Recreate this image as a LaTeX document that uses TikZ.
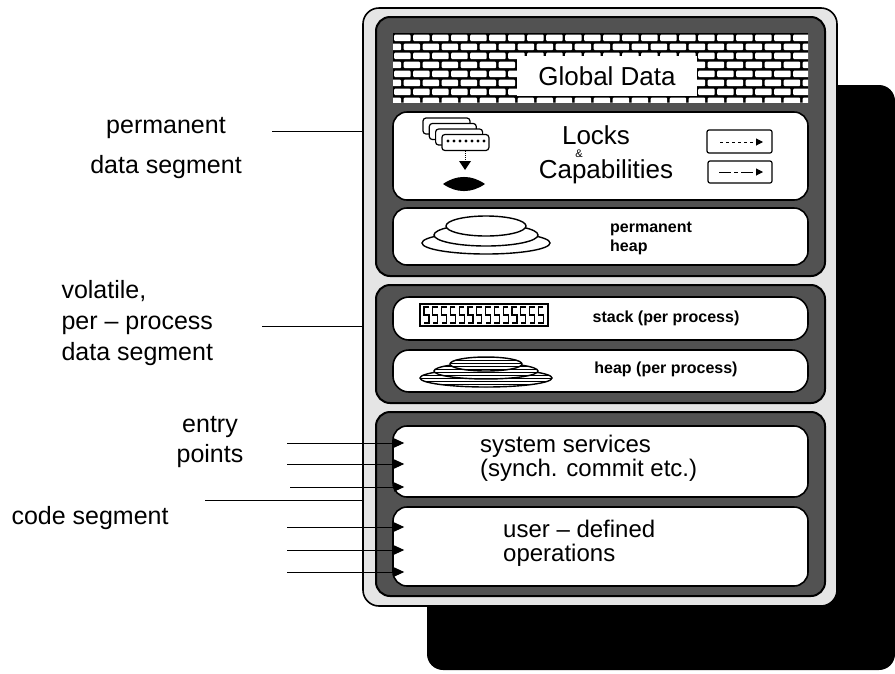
\documentclass[tikz,border=0pt]{standalone}
\usepackage{fontspec}
\setmainfont{Liberation Sans}
\usetikzlibrary{arrows.meta,patterns}

\tikzset{
  frame/.style={draw, line width=1.6pt, fill=black!10, rounded corners=16},
  segm/.style={draw, line width=2pt, fill=black!68, rounded corners=14},
  pane/.style={draw, line width=1.6pt, fill=white, rounded corners=14, minimum width=415},
  entry/.style={line width=1pt, -{Triangle[length=10pt,width=9pt]}, shorten >=-12pt},
  lbl/.style={font=\fontsize{25}{31}\selectfont},
  big/.style={font=\fontsize{26}{26}\selectfont, inner sep=0},
  mid/.style={font=\fontsize{24}{24}\selectfont, inner sep=0},
  tiny/.style={font=\fontsize{16}{19}\selectfont\bfseries, inner sep=0},
}

\begin{document}
\begin{tikzpicture}[x=1pt,y=-1pt]
\useasboundingbox (0,0) rectangle (895,673);

\fill[black, rounded corners=16] (427,85) rectangle (895,670);

\node[frame, minimum width=474, minimum height=598] (frame) at (600,307) {};

\begin{scope}[every node/.style={segm, minimum width=449}]
  \node[minimum height=259] (perm) at (600.5,146.5) {};
  \node[minimum height=118] (vol)  at (600.5,344) {};
  \node[minimum height=184] (code) at (600.5,504) {};
\end{scope}

% brick wall
\begin{scope}
  \clip (393,33) rectangle (808,102);
  \fill[black] (393,33) rectangle (808,102);
  \foreach \r in {0,...,7}
    \foreach \c in {0,...,22}
      \fill[white, rounded corners=1] ({394.2+19*\c-9.5*mod(\r,2)},{34.7+9*\r}) rectangle ++(16.5,6.4);
\end{scope}
\node[fill=white, minimum width=180, minimum height=40, big] (glob) at (607,76) {Global Data};

\begin{scope}[every node/.style={pane}]
  \node[minimum height=88] (locks) at (600.5,156) {};
  \node[minimum height=57] (pheap) at (600.5,236.5) {};
  \node[minimum height=43, rounded corners=16] (stack) at (600.5,318.5) {};
  \node[minimum height=42, rounded corners=16] (heap)  at (600.5,371) {};
  \node[minimum height=71] (sys) at (600.5,461.5) {};
  \node[minimum height=79] (ops) at (600.5,546.5) {};
\end{scope}

% locks and capabilities
\foreach \i in {0,...,3}
  \draw[fill=white, rounded corners=3, line width=1.2pt] ({423+6.3*\i},{118+5.5*\i}) rectangle ++(47,16);
\foreach \k in {0,...,6}
  \fill ({448+6*\k},141) circle (1.6pt);
\draw[densely dotted, line width=1pt] (465,151) -- (465,161);
\fill (459,161) -- (471,161) -- (465,170) -- cycle;
\fill (443,184) to[bend left=35] (485,184) to[bend left=35] (443,184);

\node[big] (lk) at (596,135) {Locks};
\node[font=\fontsize{11}{11}\selectfont, inner sep=0] (amp) at (579,153.5) {\&};
\node[big] (cap) at (606,172) {Capabilities};

\draw[line width=1.2pt, rounded corners=2] (707,130) rectangle (772,153);
\draw[dashed, line width=1pt, -{Triangle[length=7pt,width=7pt]}] (720,142) -- (763,142);
\draw[line width=1.2pt, rounded corners=2] (708,161) rectangle (772,183);
\draw[dash pattern=on 12pt off 3pt on 4pt off 3pt, line width=1pt, -{Triangle[length=7pt,width=7pt]}] (719,172) -- (763,172);

% permanent heap
\foreach \cy/\rx/\ry in {243/64/11, 235/52/11, 226/40/10}
  \draw[fill=white, line width=1.4pt] (486,\cy) ellipse [x radius=\rx pt, y radius=\ry pt];
\node[tiny, anchor=west, align=left] (ph) at (610,238) {permanent\\heap};

% per-process stack and heap
\draw[fill=white, line width=1.4pt] (420,304) rectangle (548,326);
\foreach \i in {0,...,13}
  \draw[line width=1.1pt] ({429+8.8*\i},307) -- ++(-5,0) -- ++(0,8) -- ++(5,0) -- ++(0,8) -- ++(-5,0);
\node[tiny] (st) at (666,318) {stack (per process)};

\foreach \cy/\rx/\ry in {378/66/9, 371/52/8, 364/36/7}
  \draw[fill=white, line width=1.4pt, postaction={pattern=horizontal lines}] (486,\cy) ellipse [x radius=\rx pt, y radius=\ry pt];
\node[tiny] (hp) at (666,369) {heap (per process)};

% code
\node[mid, anchor=west, align=left] (sv) at (480,458) {system services\\(synch. commit etc.)};
\node[mid, anchor=west, align=left] (uo) at (503,543) {user -- defined\\operations};

% labels on the left
\node[lbl, align=center, font=\fontsize{25}{40}\selectfont] (pdata) at (166,148) {permanent\\data segment};
\node[lbl, anchor=west, align=left] (vdata) at (58,323) {volatile,\\per -- process\\data segment};
\node[lbl, align=center, font=\fontsize{25}{30}\selectfont] (entry) at (210,442) {entry\\points};
\node[lbl, anchor=west] (cseg) at (8,518) {code segment};

\coordinate (p1) at (272,131);
\coordinate (p2) at (262,326);
\coordinate (c0) at (205,500);
\draw[line width=1pt] (p1) -- (p1 -| frame.west);
\draw[line width=1pt] (p2) -- (p2 -| frame.west);
\draw[line width=1pt] (c0) -- (c0 -| frame.west);

\coordinate (s1) at (287,443);
\coordinate (s2) at (287,464);
\coordinate (s3) at (290,487);
\coordinate (u1) at (287,527);
\coordinate (u2) at (287,550);
\coordinate (u3) at (287,572);
\path (s1) edge[entry] (s1 -| sys.west);
\path (s2) edge[entry] (s2 -| sys.west);
\path (s3) edge[entry] (s3 -| sys.west);
\path (u1) edge[entry] (u1 -| ops.west);
\path (u2) edge[entry] (u2 -| ops.west);
\path (u3) edge[entry] (u3 -| ops.west);

\end{tikzpicture}
\end{document}
